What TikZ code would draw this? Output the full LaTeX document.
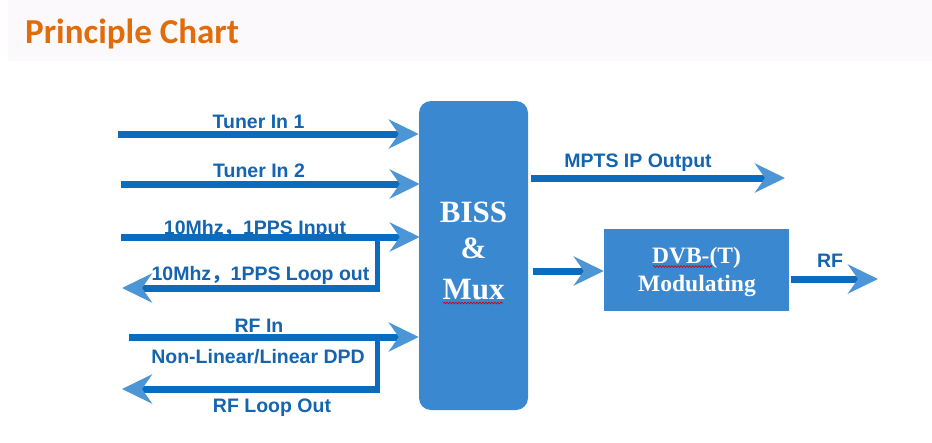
\documentclass[tikz,border=0pt]{standalone}
\usepackage{fontspec}
\setmainfont{Liberation Serif}
\newfontfamily\arialf{Liberation Sans}
\newfontfamily\calf{Carlito}
\newfontfamily\cjk{Noto Sans CJK SC}
\usetikzlibrary{arrows.meta,decorations.pathmorphing}
\definecolor{bandcol}{HTML}{FBF9FB}
\definecolor{titlecol}{HTML}{E36C0A}
\definecolor{boxcol}{HTML}{3A88D0}
\definecolor{linecol}{HTML}{0A6CBF}
\definecolor{tipcol}{HTML}{4C96D6}
\definecolor{labcol}{HTML}{1464B0}
\begin{document}
\begin{tikzpicture}[x=1pt,y=-1pt,
  lab/.style={anchor=base, inner sep=0, text=labcol, font=\arialf\bfseries\fontsize{19.5}{22}\selectfont},
  wlab/.style={anchor=base, inner sep=0, text=white, font=\bfseries\fontsize{31}{34}\selectfont},
  dlab/.style={anchor=base, inner sep=0, text=white, font=\bfseries\fontsize{23.5}{26}\selectfont},
  flow/.style={draw=linecol, line width=7pt, -{Stealth[length=30pt, width=29pt, inset=10pt, color=tipcol]}},
  vlink/.style={draw=linecol, line width=5pt},
  wavy/.style={draw=red!80!black, line width=0.6pt, decorate, decoration={snake, amplitude=0.9pt, segment length=3pt}}
]
\useasboundingbox (0,0) rectangle (932,442);
\fill[bandcol] (8,0) rectangle (932,61);
\node[anchor=base west, inner sep=0, text=titlecol, font=\calf\bfseries\fontsize{35}{40}\selectfont] (title) at (25,43) {Principle Chart};

% blocks
\node[fill=boxcol, rounded corners=12pt, minimum width=109pt, minimum height=309pt, inner sep=0] (biss) at (473.5,255.5) {};
\node[fill=boxcol, minimum width=185pt, minimum height=82pt, inner sep=0] (dvb) at (696.5,270) {};

\node[wlab] (bissA) at (473.5,222) {BISS};
\node[wlab] (bissB) at (473.5,258) {\&};
\node[wlab] (bissC) at (473.5,299) {Mux};
\draw[wavy] (443,303) -- (503,303);

\node[dlab] (dvbA) at (696.5,263) {DVB-(T)};
\node[dlab] (dvbB) at (697,291) {Modulating};
\draw[wavy] (653,266.5) -- (712,266.5);

% coordinates
\coordinate (t1) at (118,134);
\coordinate (t2) at (121,184);
\coordinate (ck) at (121,237);
\coordinate (rf) at (129,337);
\coordinate (ckA) at (377,240.5);
\coordinate (ckB) at (377,288);
\coordinate (ckO) at (122,288);
\coordinate (rfA) at (377,340.5);
\coordinate (rfB) at (377,389);
\coordinate (rfO) at (122,389);
\coordinate (ipO) at (785,178);
\coordinate (rfT) at (878,279);

% inputs
\draw[flow] (t1) -- (biss.west |- t1);
\draw[flow] (t2) -- ([xshift=1pt]biss.west |- t2);
\draw[flow] (ck) -- ([xshift=1pt]biss.west |- ck);
\draw[flow] (rf) -- (biss.west |- rf);

% loops
\draw[vlink] (ckA) -- ([yshift=-3.5pt]ckB);
\draw[flow] ([xshift=2.5pt]ckB) -- (ckO);
\draw[vlink] (rfA) -- ([yshift=-3.5pt]rfB);
\draw[flow] ([xshift=2.5pt]rfB) -- (rfO);

% outputs
\draw[flow] ([xshift=3pt]biss.east |- ipO) -- (ipO);
\draw[flow] ([xshift=5pt]biss.east |- 0,271) -- (dvb.west |- 0,271);
\draw[flow] ([xshift=2pt]dvb.east |- rfT) -- (rfT);

% labels
\node[lab] (lt1) at (258.5,128) {Tuner In 1};
\node[lab] (lt2) at (259,177) {Tuner In 2};
\node[lab] (lck) at (255,234.5) {10Mhz{\cjk ，}1PPS Input};
\node[lab] (lcko) at (260.5,280) {10Mhz{\cjk ，}1PPS Loop out};
\node[lab] (lrf) at (259,332) {RF In};
\node[lab] (ldpd) at (258,363) {Non-Linear/Linear DPD};
\node[lab] (lrfo) at (272,412) {RF Loop Out};
\node[lab] (lip) at (638,167) {MPTS IP Output};
\node[lab] (lrft) at (830,267) {RF};
\end{tikzpicture}
\end{document}
